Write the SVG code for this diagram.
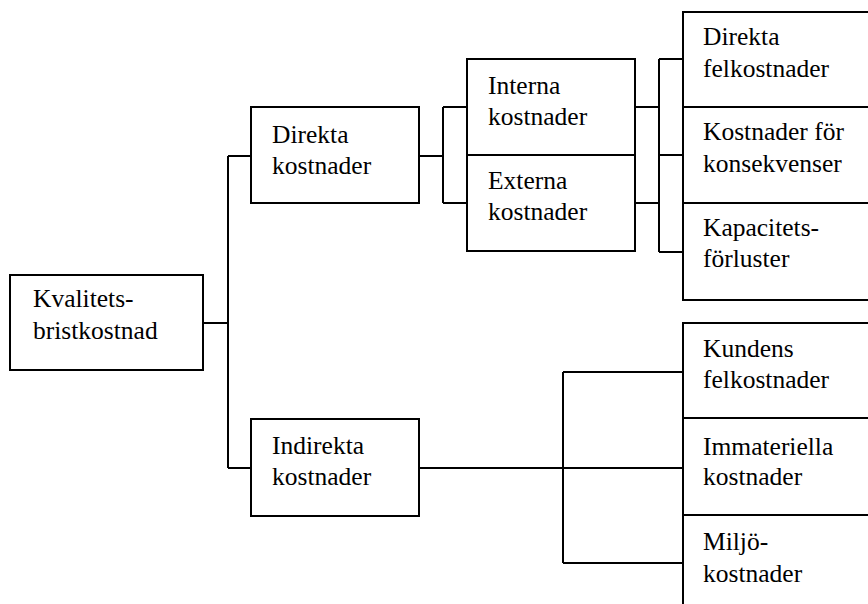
<svg xmlns="http://www.w3.org/2000/svg" width="868" height="604" viewBox="0 0 868 604">
<style>
.box{fill:#fff;stroke:#000;stroke-width:2}
.ln{fill:none;stroke:#000;stroke-width:2}
text{font-family:'Liberation Serif','Times New Roman',Times,'DejaVu Serif',serif;font-size:25.5px;fill:#000}
</style>
<rect width="868" height="604" fill="#fff"/>
<g id="connectors">
<path class="ln" d="M203 323H228M228 156V468M228 156H251M228 468H251"/>
<path class="ln" d="M419 156H443M443 107V203M443 107H467M443 203H467"/>
<path class="ln" d="M635 107H659M635 203H659M659 59V252M659 59H683M659 155H683M659 252H683"/>
<path class="ln" d="M419 468H563M563 372V563M563 372H683M563 468H683M563 563H683"/>
</g>
<g id="kvalitetsbristkostnad">
<rect class="box" x="10" y="275" width="193" height="95"/>
<text x="33" y="307" font-family="Liberation Serif, serif">Kvalitets-</text>
<text x="33" y="339" font-family="Liberation Serif, serif">bristkostnad</text>
</g>
<g id="direkta-kostnader">
<rect class="box" x="251" y="107" width="168" height="96"/>
<text x="272" y="143">Direkta</text>
<text x="272" y="174">kostnader</text>
</g>
<g id="indirekta-kostnader">
<rect class="box" x="251" y="419" width="168" height="97"/>
<text x="272" y="454">Indirekta</text>
<text x="272" y="485">kostnader</text>
</g>
<g id="interna-kostnader">
<rect class="box" x="467" y="59" width="168" height="96"/>
<text x="488" y="94">Interna</text>
<text x="488" y="125">kostnader</text>
</g>
<g id="externa-kostnader">
<rect class="box" x="467" y="155" width="168" height="96"/>
<text x="488" y="189">Externa</text>
<text x="488" y="220">kostnader</text>
</g>
<g id="direkta-felkostnader">
<rect class="box" x="683" y="12" width="200" height="95"/>
<text x="703" y="45">Direkta</text>
<text x="703" y="77">felkostnader</text>
</g>
<g id="kostnader-for-konsekvenser">
<rect class="box" x="683" y="107" width="200" height="96"/>
<text x="703" y="140">Kostnader för</text>
<text x="703" y="172">konsekvenser</text>
</g>
<g id="kapacitetsforluster">
<rect class="box" x="683" y="203" width="200" height="97"/>
<text x="703" y="236">Kapacitets-</text>
<text x="703" y="267">förluster</text>
</g>
<g id="kundens-felkostnader">
<rect class="box" x="683" y="323" width="200" height="95"/>
<text x="703" y="357">Kundens</text>
<text x="703" y="388">felkostnader</text>
</g>
<g id="immateriella-kostnader">
<rect class="box" x="683" y="418" width="200" height="97"/>
<text x="703" y="455">Immateriella</text>
<text x="703" y="485">kostnader</text>
</g>
<g id="miljokostnader">
<rect class="box" x="683" y="515" width="200" height="100"/>
<text x="703" y="550">Miljö-</text>
<text x="703" y="582">kostnader</text>
</g>
</svg>
